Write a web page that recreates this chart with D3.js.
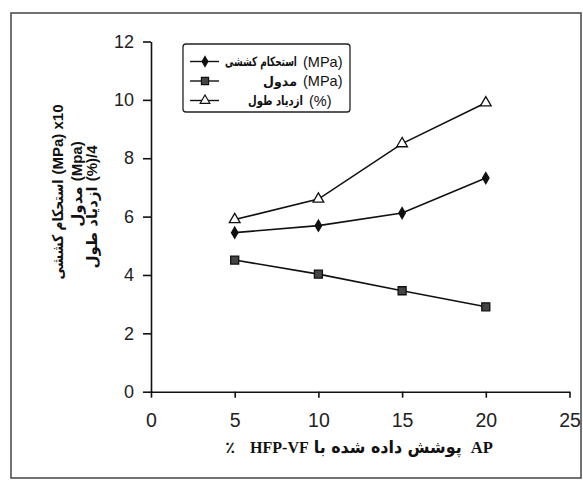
<!DOCTYPE html>
<html>
<head>
<meta charset="utf-8">
<script src="https://cdn.jsdelivr.net/npm/d3@7"></script>
<style>
  html, body { margin: 0; padding: 0; background: #fff; }
  svg { display: block; }
</style>
</head>
<body>
<svg id="chart" width="583" height="480"></svg>
<script>
// ---- data ----
const xValues = [5, 10, 15, 20];
const tensile = [5.45, 5.69, 6.12, 7.32];
const modulus = [4.51, 4.03, 3.46, 2.91];
const elongation = [5.9, 6.6, 8.5, 9.9];
const xTicks = [0, 5, 10, 15, 20, 25];
const yTicks = [0, 2, 4, 6, 8, 10, 12];
const seriesNames = ["استحکام کششی", "مدول", "ازدیاد طول"];
const seriesUnits = ["(MPa)", "(MPa)", "(%)"];
const xTitleParts = ["٪", "HFP-VF", "پوشش داده شده با", "AP"];
const yTitleNames = ["استحکام کششی", "مدول", "ازدیاد طول"];
const yTitleUnits = ["(MPa) x10", "(Mpa)", "(%)/4"];

// ---- setup ----
const svg = d3.select("#chart");
const fa = "'DejaVu Sans','Noto Sans Arabic',sans-serif";
const sans = "'Liberation Sans',Arial,sans-serif";
const serif = "'Liberation Serif','Times New Roman',serif";

svg.append("rect").attr("x", 11).attr("y", 13).attr("width", 570).attr("height", 465)
  .attr("fill", "#fff").attr("stroke", "#444").attr("stroke-width", 1.5);

const x = d3.scaleLinear().domain([0, 25]).range([151, 569.5]);
const y = d3.scaleLinear().domain([0, 12]).range([391.7, 41.5]);

// axes
const yAxis = svg.append("g").attr("transform", `translate(${x(0)},0)`)
  .call(d3.axisLeft(y).tickValues(yTicks).tickSize(8).tickPadding(9).tickSizeOuter(0));
const xAxis = svg.append("g").attr("transform", `translate(0,${y(0)})`)
  .call(d3.axisBottom(x).tickValues(xTicks).tickSize(6).tickPadding(15).tickSizeOuter(0));
[yAxis, xAxis].forEach(a => {
  a.select(".domain").attr("stroke", "#111").attr("stroke-width", 1.6);
  a.selectAll(".tick line").attr("stroke", "#111").attr("stroke-width", 1.6);
  a.selectAll(".tick text").attr("fill", "#222").attr("font-family", sans);
});
yAxis.selectAll(".tick text").attr("font-size", 18);
xAxis.selectAll(".tick text").attr("font-size", 19.5);

// series
const series = [
  { vals: tensile, sym: d3.symbolDiamond, size: 36, fill: "#111" },
  { vals: modulus, sym: d3.symbolSquare, size: 64, fill: "#444" },
  { vals: elongation, sym: d3.symbolTriangle, size: 50, fill: "#fff" }
];
const line = d3.line().x(d => x(d[0])).y(d => y(d[1]));
series.forEach(s => {
  const pts = xValues.map((v, i) => [v, s.vals[i]]);
  svg.append("path").attr("d", line(pts)).attr("fill", "none")
    .attr("stroke", "#111").attr("stroke-width", 1.6);
  svg.selectAll(null).data(pts).enter().append("path")
    .attr("transform", d => `translate(${x(d[0])},${y(d[1])})`)
    .attr("d", d3.symbol().type(s.sym).size(s.size))
    .attr("fill", s.fill).attr("stroke", "#111").attr("stroke-width", 1.3);
});

// text placed via transform; squeezed horizontally if wider than len
function place(sel, px, py, len) {
  const w = sel.node().getComputedTextLength();
  const sx = len && w > len ? len / w : 1;
  sel.attr("x", 0).attr("y", 0)
    .attr("transform", `translate(${px},${py}) scale(${sx},1)`);
  return w * sx;
}
function measure(sel, len) {
  const w = sel.node().getComputedTextLength();
  return len && w > len ? len : w;
}

// legend
const lg = svg.append("g");
lg.append("rect").attr("x", 183).attr("y", 44).attr("width", 167).attr("height", 68)
  .attr("rx", 3).attr("fill", "#fff").attr("stroke", "#222").attr("stroke-width", 1.3);
const rowY = [61.5, 81, 100.5];
const legendNameWidth = [72, 34, 55];
series.forEach((s, i) => {
  const ry = rowY[i];
  lg.append("line").attr("x1", 190).attr("x2", 219).attr("y1", ry).attr("y2", ry)
    .attr("stroke", "#111").attr("stroke-width", 1.4);
  lg.append("path").attr("transform", `translate(205,${ry})`)
    .attr("d", d3.symbol().type(s.sym).size(s.size * 0.8))
    .attr("fill", s.fill).attr("stroke", "#111").attr("stroke-width", 1.2);
  const ux = i === 2 ? 309 : 303;
  lg.append("text").attr("x", ux).attr("y", ry + 5).attr("font-family", sans)
    .attr("font-size", 14.5).attr("fill", "#111").text(seriesUnits[i]);
  const t = lg.append("text")
    .attr("font-family", fa).attr("font-weight", "bold").attr("font-size", 13)
    .attr("fill", "#111").text(seriesNames[i]);
  const w = measure(t, legendNameWidth[i]);
  place(t, ux - 6 - w, ry + 4.5, legendNameWidth[i]);
});

// helper to lay out pieces left-to-right and center them
function layout(g, pieces, cx, baseline) {
  const nodes = pieces.map(p => g.append("text")
    .attr("font-family", p.font).attr("font-weight", p.weight || "bold")
    .attr("font-size", p.size).attr("fill", "#111").text(p.text));
  const widths = nodes.map((n, i) => measure(n, pieces[i].len));
  const total = widths.reduce((a, b) => a + b, 0) + pieces.reduce((a, p) => a + (p.gap || 0), 0);
  let cur = cx - total / 2;
  nodes.forEach((n, i) => { place(n, cur, baseline, pieces[i].len); cur += widths[i] + (pieces[i].gap || 0); });
}

// x title
layout(svg.append("g"), [
  { text: xTitleParts[0], font: fa, size: 16, gap: 15 },
  { text: xTitleParts[1], font: serif, size: 16, gap: 5 },
  { text: xTitleParts[2], font: fa, size: 17, gap: 9, len: 148 },
  { text: xTitleParts[3], font: serif, size: 16.5 }
], 359, 453);

// y title (3 rotated lines)
const yCenters = [[58, 192], [77, 184], [92, 207]];
const yNameWidth = [100, 44, 92];
yTitleNames.forEach((nm, i) => {
  const g = svg.append("g").attr("transform", `translate(${yCenters[i][0]},${yCenters[i][1]}) rotate(-90)`);
  layout(g, [
    { text: nm, font: fa, size: 15, gap: 5, len: yNameWidth[i] },
    { text: yTitleUnits[i], font: sans, size: 15 }
  ], 0, 5);
});
</script>
</body>
</html>
